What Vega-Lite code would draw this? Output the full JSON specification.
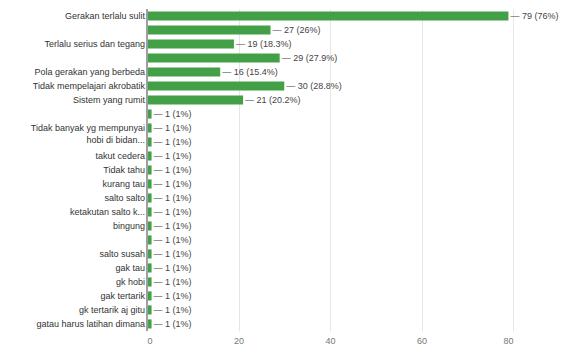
{
  "$schema": "https://vega.github.io/schema/vega-lite/v6.json",
  "autosize": {"type": "none"},
  "width": 366,
  "height": 322,
  "padding": {"left": 147, "top": 9, "right": 50, "bottom": 15},
  "background": "white",
  "config": {"view": {"stroke": null}, "font": "Liberation Sans"},
  "data": {
    "values": [
      {"no": 1, "label": "Gerakan terlalu sulit", "count": 79, "pct": "76%"},
      {"no": 2, "label": "", "count": 27, "pct": "26%"},
      {"no": 3, "label": "Terlalu serius dan tegang", "count": 19, "pct": "18.3%"},
      {"no": 4, "label": "", "count": 29, "pct": "27.9%"},
      {"no": 5, "label": "Pola gerakan yang berbeda", "count": 16, "pct": "15.4%"},
      {"no": 6, "label": "Tidak mempelajari akrobatik", "count": 30, "pct": "28.8%"},
      {"no": 7, "label": "Sistem yang rumit", "count": 21, "pct": "20.2%"},
      {"no": 8, "label": "", "count": 1, "pct": "1%"},
      {"no": 9, "label": "Tidak banyak yg mempunyai\nhobi di bidan...", "count": 1, "pct": "1%"},
      {"no": 10, "label": "", "count": 1, "pct": "1%"},
      {"no": 11, "label": "takut cedera", "count": 1, "pct": "1%"},
      {"no": 12, "label": "Tidak tahu", "count": 1, "pct": "1%"},
      {"no": 13, "label": "kurang tau", "count": 1, "pct": "1%"},
      {"no": 14, "label": "salto salto", "count": 1, "pct": "1%"},
      {"no": 15, "label": "ketakutan salto k...", "count": 1, "pct": "1%"},
      {"no": 16, "label": "bingung", "count": 1, "pct": "1%"},
      {"no": 17, "label": "", "count": 1, "pct": "1%"},
      {"no": 18, "label": "salto susah", "count": 1, "pct": "1%"},
      {"no": 19, "label": "gak tau", "count": 1, "pct": "1%"},
      {"no": 20, "label": "gk hobi", "count": 1, "pct": "1%"},
      {"no": 21, "label": "gak tertarik", "count": 1, "pct": "1%"},
      {"no": 22, "label": "gk tertarik aj gitu", "count": 1, "pct": "1%"},
      {"no": 23, "label": "gatau harus latihan dimana", "count": 1, "pct": "1%"}
    ]
  },
  "transform": [
    {"calculate": "'— ' + datum.count + ' (' + datum.pct + ')'", "as": "ann"}
  ],
  "encoding": {
    "y": {
      "field": "no",
      "type": "ordinal",
      "sort": "ascending",
      "axis": null,
      "scale": {"paddingInner": 0.35, "paddingOuter": 0.18}
    }
  },
  "layer": [
    {
      "mark": {"type": "bar", "color": "#43a047"},
      "encoding": {
        "x": {
          "field": "count",
          "type": "quantitative",
          "scale": {"domain": [0, 80], "nice": false},
          "axis": {
            "values": [0, 20, 40, 60, 80],
            "title": null,
            "domain": false,
            "ticks": false,
            "grid": true,
            "gridColor": "#e6e6e6",
            "labelColor": "#777777",
            "labelFontSize": 9,
            "labelPadding": 5
          }
        }
      }
    },
    {
      "mark": {"type": "rule", "color": "#9e9e9e", "strokeWidth": 1},
      "encoding": {"x": {"datum": 0}, "y": null}
    },
    {
      "mark": {"type": "text", "align": "left", "baseline": "middle", "dx": 2, "fontSize": 9, "color": "#444444"},
      "encoding": {
        "x": {"field": "count", "type": "quantitative"},
        "text": {"field": "ann"}
      }
    },
    {
      "mark": {"type": "text", "align": "right", "baseline": "middle", "dx": -2, "fontSize": 9, "color": "#333333", "lineBreak": "\n", "lineHeight": 12},
      "encoding": {
        "x": {"datum": 0},
        "text": {"field": "label"}
      }
    }
  ]
}
